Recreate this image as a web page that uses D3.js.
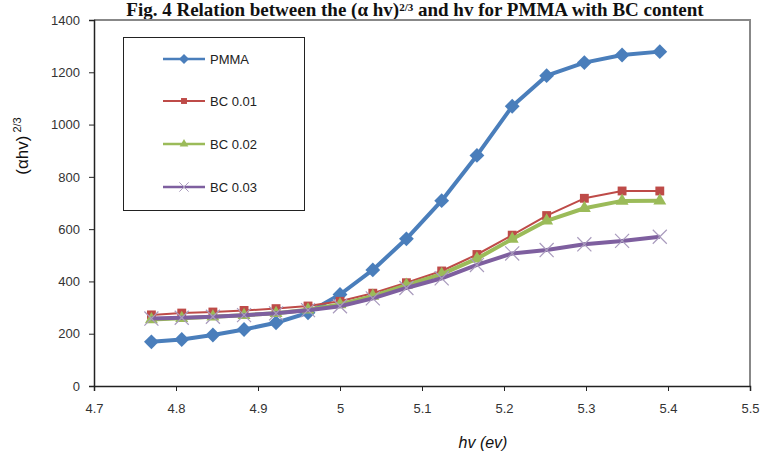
<html>
<head>
<script src="https://d3js.org/d3.v7.min.js"></script>
<style>
  body { margin: 0; background: #fff; }
  text { font-family: "Liberation Sans", Arial, sans-serif; }
  .tick text { fill: #333; font-size: 13px; }
</style>
</head>
<body>
<script>

var width = 760,
	height = 452;

// photon energy hv (eV)
var energy = [4.77, 4.807, 4.845, 4.883, 4.922, 4.961, 5.0, 5.04, 5.081, 5.124, 5.167, 5.21, 5.252, 5.298, 5.344, 5.39];

var pmma   = [169, 178, 195, 216, 242, 280, 350, 444, 563, 709, 882, 1070, 1187, 1237, 1266, 1279];
var bc001  = [272, 279, 283, 289, 296, 306, 324, 355, 395, 440, 503, 577, 652, 718, 746, 746];
var bc002  = [254, 259, 265, 271, 278, 292, 312, 344, 386, 428, 487, 562, 632, 680, 708, 709];
var bc003  = [258, 261, 265, 271, 278, 290, 305, 335, 375, 412, 463, 507, 520, 542, 555, 571];

var seriesNames = ["PMMA", "BC 0.01", "BC 0.02", "BC 0.03"];
var xTicks = [4.7, 4.8, 4.9, 5, 5.1, 5.2, 5.3, 5.4, 5.5];
var yTicks = [0, 200, 400, 600, 800, 1000, 1200, 1400];

var styles = [
	{ color: "#4a7ebb", width: 4,   shape: d3.symbolDiamond2, size: 140, fill: "#4a7ebb", stroke: "none" },
	{ color: "#be4b48", width: 2,   shape: d3.symbolSquare2,  size: 100, fill: "#be4b48", stroke: "none" },
	{ color: "#9bbb59", width: 4,   shape: d3.symbolTriangle2, size: 120, fill: "#9bbb59", stroke: "none" },
	{ color: "#7e5f9f", width: 4,   shape: d3.symbolTimes,    size: 130, fill: "none",    stroke: "#a99bbd" }
];

var series = [pmma, bc001, bc002, bc003].map(function(vals, i){
	return { name: seriesNames[i], style: styles[i],
		points: vals.map(function(v, j){ return [energy[j], v]; }) };
});

var svg = d3.select("body")
	.append("svg")
	.attr("width", width)
	.attr("height", height);

var x = d3.scaleLinear().domain([4.7, 5.5]).range([94, 750]);
var y = d3.scaleLinear().domain([0, 1400]).range([386, 20]);

// title
var title = svg.append("text")
	.attr("x", 415)
	.attr("y", 16)
	.attr("text-anchor", "middle")
	.style("font-family", "'Liberation Serif', 'Times New Roman', serif")
	.style("font-weight", "bold")
	.style("font-size", "19px")
	.attr("fill", "#111");
title.append("tspan").text("Fig. 4 Relation between the (\u03b1 hv)");
title.append("tspan").attr("dy", -5).style("font-size", "11px").text("2/3");
title.append("tspan").attr("dy", 5).text(" and hv for PMMA with BC content");

// plot frame: top and right grey
svg.append("path")
	.attr("d", "M" + x(4.7) + "," + y(1400) + "H" + x(5.5) + "V" + y(0))
	.attr("fill", "none")
	.attr("stroke", "#888")
	.attr("stroke-width", 2);

var xAxis = svg.append("g")
	.attr("transform", "translate(0," + y(0) + ")")
	.call(d3.axisBottom(x).tickValues(xTicks).tickSize(5).tickPadding(13)
		.tickFormat(d3.format("")));

var yAxis = svg.append("g")
	.attr("transform", "translate(" + x(4.7) + ",0)")
	.call(d3.axisLeft(y).tickValues(yTicks).tickSize(5).tickPadding(9)
		.tickFormat(d3.format("d")));

[xAxis, yAxis].forEach(function(a){
	a.select(".domain").attr("stroke", "#222").attr("stroke-width", 1.5);
	a.selectAll(".tick line").attr("stroke", "#222");
	a.selectAll(".tick text").attr("fill", "#333");
});

// axis titles
svg.append("text")
	.attr("x", 483)
	.attr("y", 448)
	.attr("text-anchor", "middle")
	.style("font-size", "16px")
	.style("font-style", "italic")
	.attr("fill", "#111")
	.text("hv (ev)");

var yl = svg.append("text")
	.attr("transform", "translate(28,146) rotate(-90)")
	.attr("text-anchor", "middle")
	.style("font-size", "17px")
	.attr("fill", "#111");
yl.append("tspan").text("(\u03b1hv)");
yl.append("tspan").attr("dx", 3).attr("dy", -7).style("font-size", "11px").text("2/3");

var line = d3.line()
	.x(function(d){ return x(d[0]); })
	.y(function(d){ return y(d[1]); });

series.forEach(function(s){
	var g = svg.append("g");
	g.append("path")
		.datum(s.points)
		.attr("d", line)
		.attr("fill", "none")
		.attr("stroke", s.style.color)
		.attr("stroke-width", s.style.width)
		.attr("stroke-linejoin", "round");
	g.selectAll("path.m")
		.data(s.points)
		.enter()
		.append("path")
		.attr("class", "m")
		.attr("transform", function(d){ return "translate(" + x(d[0]) + "," + y(d[1]) + ")"; })
		.attr("d", d3.symbol().type(s.style.shape).size(s.style.size))
		.attr("fill", s.style.fill)
		.attr("stroke", s.style.stroke)
		.attr("stroke-width", 1.2);
});

// legend
var legend = svg.append("g");
legend.append("rect")
	.attr("x", 123.5)
	.attr("y", 37.5)
	.attr("width", 181)
	.attr("height", 173)
	.attr("fill", "#fff")
	.attr("stroke", "#222")
	.attr("stroke-width", 1);

var rowY = [59, 101, 144, 187];
series.forEach(function(s, i){
	var r = legend.append("g").attr("transform", "translate(0," + rowY[i] + ")");
	r.append("line")
		.attr("x1", 163).attr("x2", 205)
		.attr("stroke", s.style.color)
		.attr("stroke-width", Math.min(s.style.width, 2.5));
	r.append("path")
		.attr("transform", "translate(184,0)")
		.attr("d", d3.symbol().type(s.style.shape).size(s.style.size * 0.45))
		.attr("fill", s.style.fill)
		.attr("stroke", s.style.stroke)
		.attr("stroke-width", 1);
	r.append("text")
		.attr("x", 210)
		.attr("y", 5)
		.style("font-size", "13px")
		.attr("fill", "#222")
		.text(s.name);
});
</script>
</body>
</html>
